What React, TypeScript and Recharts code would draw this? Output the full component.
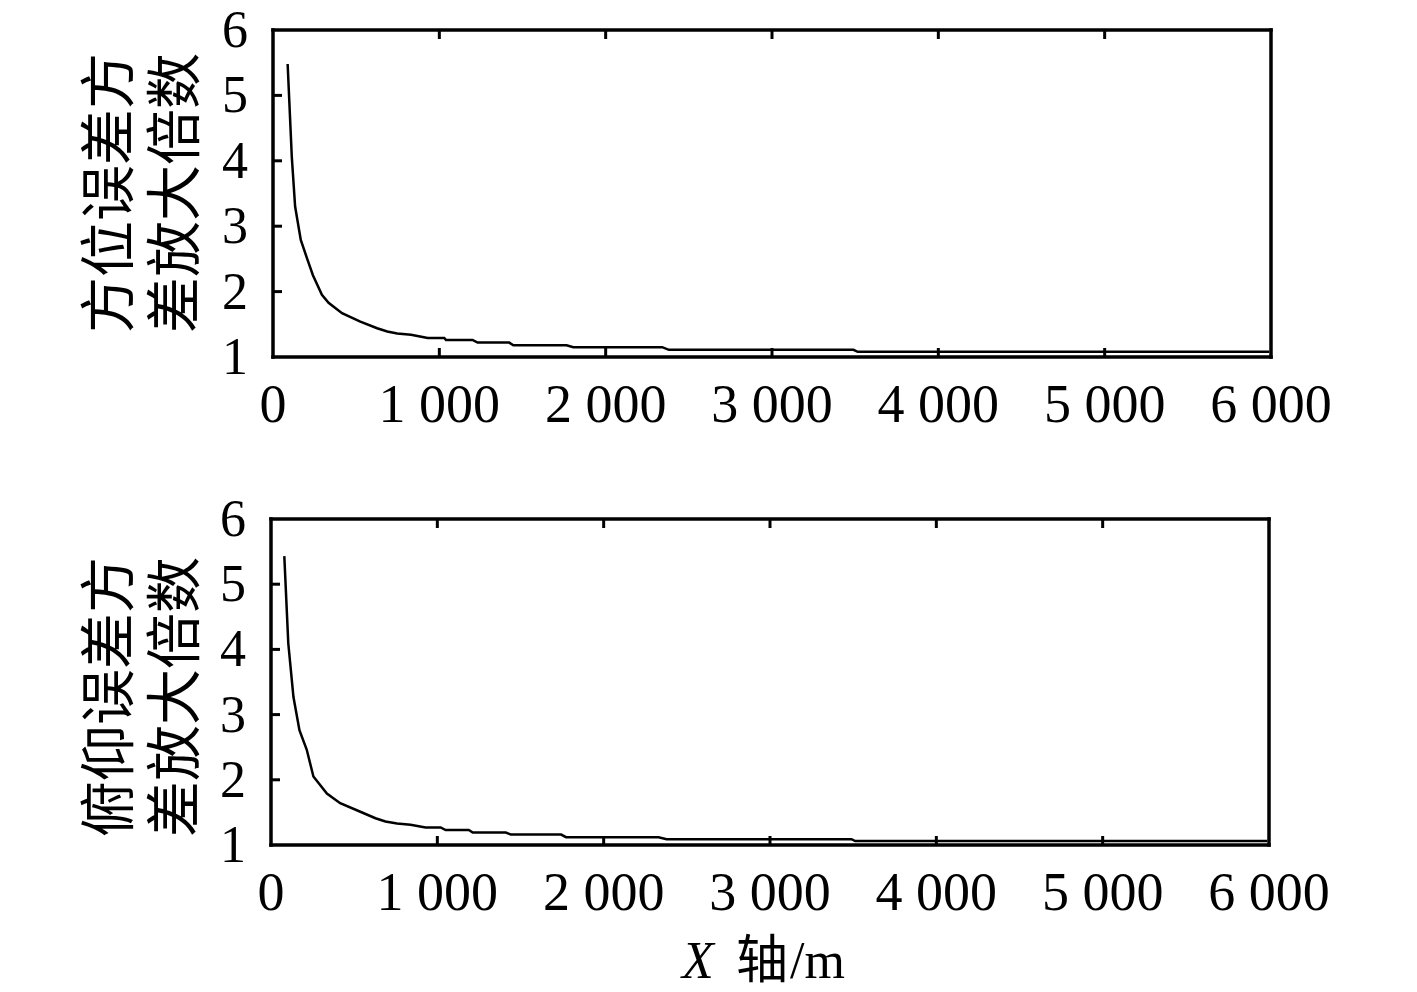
import { LineChart, Line, XAxis, YAxis } from "recharts";

// ─── data ───
const xTicks = [0, 1000, 2000, 3000, 4000, 5000, 6000];
const yTicks = [1, 2, 3, 4, 5, 6];

const azimuthX = [88, 113, 133, 167, 203, 240, 294, 334, 415, 525, 626, 687, 747, 830, 930, 1030, 1040, 1200, 1230, 1420, 1445, 1765, 1805, 2340, 2380, 3490, 3515, 5990];
const azimuthY = [5.48, 4.06, 3.3, 2.79, 2.52, 2.25, 1.95, 1.83, 1.67, 1.54, 1.44, 1.39, 1.36, 1.34, 1.29, 1.29, 1.26, 1.26, 1.22, 1.22, 1.18, 1.18, 1.15, 1.15, 1.11, 1.11, 1.08, 1.08];

const pitchX = [80, 104, 135, 171, 215, 255, 336, 416, 537, 628, 688, 758, 839, 929, 1020, 1050, 1189, 1213, 1412, 1442, 1744, 1774, 2330, 2378, 3490, 3512, 5990];
const pitchY = [5.43, 4.09, 3.27, 2.76, 2.46, 2.05, 1.79, 1.64, 1.51, 1.41, 1.36, 1.33, 1.31, 1.27, 1.27, 1.23, 1.23, 1.19, 1.19, 1.16, 1.16, 1.12, 1.12, 1.09, 1.09, 1.06, 1.06];

const azimuthTitle = ["方位误差方", "差放大倍数"];
const pitchTitle = ["俯仰误差方", "差放大倍数"];

const SERIF = '"Liberation Serif", "Times New Roman", serif';
const CJK = '"Noto Sans CJK SC", sans-serif';
const TICK_LEN = 9;
const FRAME = { stroke: "#000", strokeWidth: 3.5, strokeLinecap: "square" as const };

const fmtX = (v: number) => (v === 0 ? "0" : `${v / 1000} 000`);

/* ticks point inward, labels only on bottom / left */
function BottomTick(props: any) {
  const { x, y, payload } = props;
  const v = payload.value as number;
  return (
    <g>
      {v > 0 && v < 6000 && (
        <line x1={x} x2={x} y1={y} y2={y - TICK_LEN} stroke="#000" strokeWidth={3} />
      )}
      <text x={x} y={y + 65} textAnchor="middle" fontFamily={SERIF} fontSize={54} fill="#000">
        {fmtX(v)}
      </text>
    </g>
  );
}

function LeftTick(props: any) {
  const { x, y, payload } = props;
  const v = payload.value as number;
  return (
    <g>
      {v > 1 && v < 6 && (
        <line x1={x} x2={x + TICK_LEN} y1={y} y2={y} stroke="#000" strokeWidth={3} />
      )}
      <text x={x - 25} y={y + 17} textAnchor="end" fontFamily={SERIF} fontSize={52} fill="#000">
        {v}
      </text>
    </g>
  );
}

function TopTick(props: any) {
  const { x, y, payload } = props;
  const v = payload.value as number;
  if (v <= 0 || v >= 6000) return <g />;
  return <line x1={x} x2={x} y1={y} y2={y + TICK_LEN} stroke="#000" strokeWidth={3} />;
}

function RightTick(props: any) {
  const { x, y, payload } = props;
  const v = payload.value as number;
  if (v <= 1 || v >= 6) return <g />;
  return <line x1={x} x2={x - TICK_LEN} y1={y} y2={y} stroke="#000" strokeWidth={3} />;
}

function Panel({
  xs,
  ys,
  top,
  height,
  margin,
}: {
  xs: number[];
  ys: number[];
  top: number;
  height: number;
  margin: { top: number; right: number; bottom: number; left: number };
}) {
  const data = xs.map((x, i) => ({ x, y: ys[i] }));
  return (
    <div style={{ position: "absolute", left: 0, top }}>
      <LineChart width={1417} height={height} data={data} margin={margin}>
        <XAxis
          dataKey="x"
          type="number"
          domain={[0, 6000]}
          ticks={xTicks}
          interval={0}
          height={1}
          tickSize={0}
          tickMargin={0}
          tickLine={false}
          axisLine={FRAME}
          tick={(p: any) => <BottomTick {...p} />}
        />
        <XAxis
          xAxisId="top"
          orientation="top"
          dataKey="x"
          type="number"
          domain={[0, 6000]}
          ticks={xTicks}
          interval={0}
          height={1}
          tickSize={0}
          tickMargin={0}
          tickLine={false}
          axisLine={FRAME}
          tick={(p: any) => <TopTick {...p} />}
        />
        <YAxis
          type="number"
          domain={[1, 6]}
          ticks={yTicks}
          interval={0}
          width={1}
          tickSize={0}
          tickMargin={0}
          tickLine={false}
          axisLine={FRAME}
          tick={(p: any) => <LeftTick {...p} />}
        />
        <YAxis
          yAxisId="right"
          orientation="right"
          type="number"
          domain={[1, 6]}
          ticks={yTicks}
          interval={0}
          width={1}
          tickSize={0}
          tickMargin={0}
          tickLine={false}
          axisLine={FRAME}
          tick={(p: any) => <RightTick {...p} />}
        />
        <Line
          type="linear"
          dataKey="y"
          stroke="#000"
          strokeWidth={2.5}
          dot={false}
          isAnimationActive={false}
        />
      </LineChart>
    </div>
  );
}

function VerticalTitle({ lines, cx, cy }: { lines: string[]; cx: number[]; cy: number }) {
  return (
    <>
      {lines.map((s, i) => (
        <text
          key={i}
          transform={`translate(${cx[i]},${cy}) rotate(-90)`}
          textAnchor="middle"
          dominantBaseline="central"
          fontFamily={CJK}
          fontSize={56}
          fill="#000"
        >
          {s}
        </text>
      ))}
    </>
  );
}

export default function App() {
  return (
    <div
      style={{
        position: "absolute",
        left: 0,
        top: 0,
        width: 1417,
        height: 992,
        background: "#fff",
        overflow: "hidden",
      }}
    >
      <Panel
        xs={azimuthX}
        ys={azimuthY}
        top={0}
        height={450}
        margin={{ top: 29, right: 145, bottom: 92, left: 272 }}
      />
      <Panel
        xs={pitchX}
        ys={pitchY}
        top={470}
        height={480}
        margin={{ top: 48, right: 147, bottom: 104, left: 270 }}
      />
      <svg
        width={1417}
        height={992}
        style={{ position: "absolute", left: 0, top: 0, pointerEvents: "none" }}
      >
        <VerticalTitle lines={azimuthTitle} cx={[103, 169]} cy={193} />
        <VerticalTitle lines={pitchTitle} cx={[103, 169]} cy={697} />
        <text y={978} fontSize={52} fill="#000">
          <tspan x={682} fontFamily={SERIF} fontStyle="italic">X</tspan>
          <tspan x={736} fontFamily={CJK}>轴</tspan>
          <tspan x={790} fontFamily={SERIF}>/m</tspan>
        </text>
      </svg>
    </div>
  );
}
